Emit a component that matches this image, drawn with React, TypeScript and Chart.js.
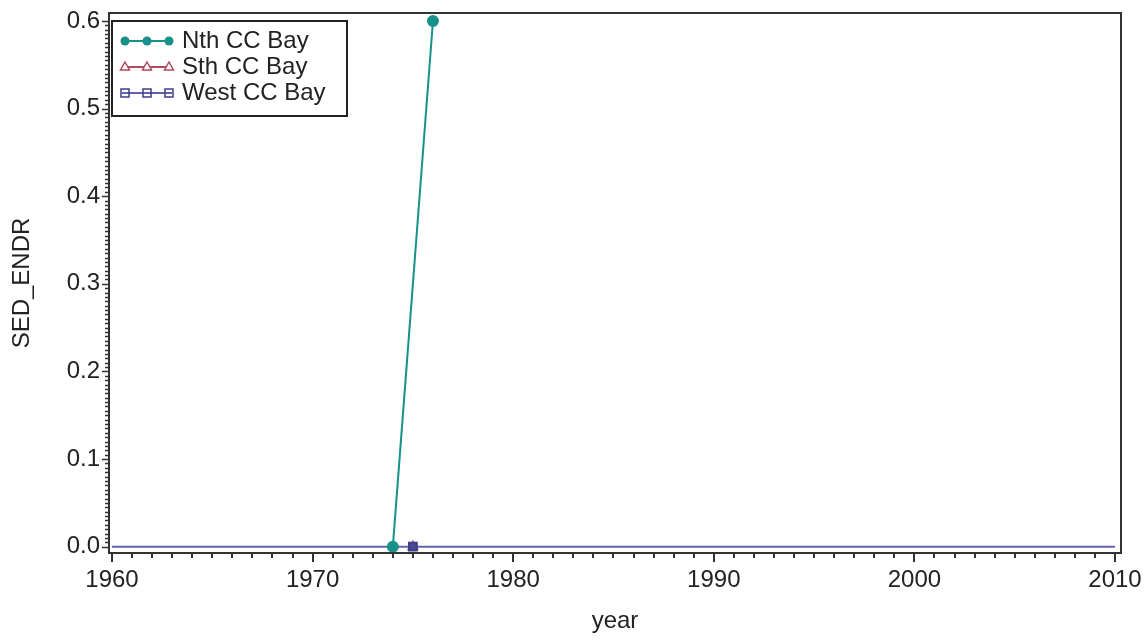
import React, { useEffect, useRef } from "react";
import { Chart, registerables } from "chart.js";

Chart.register(...registerables);

const seriesNames = ["Nth CC Bay", "Sth CC Bay", "West CC Bay"];
const nthYears = [1974, 1976];
const nthValues = [0, 0.6];
const sthYears = [1975];
const sthValues = [0];
const westYears = [1975];
const westValues = [0];
const refYears = [1960, 2010];
const refValues = [0, 0];
const xTickValues = [1960, 1970, 1980, 1990, 2000, 2010];
const yTickValues = [0, 0.1, 0.2, 0.3, 0.4, 0.5, 0.6];
const xTitle = "year";
const yTitle = "SED_ENDR";

const FONT = "'Liberation Sans', Arial, sans-serif";
const FS = 24;
const TEXT = "#222";
const AXIS = "#333";
const TEAL = "#17918a";
const RED = "#b04a5e";
const PURPLE_LINE = "#6262ae";
const PURPLE_MARK = "#3f3f88";

const toPts = (xs: number[], ys: number[]) => xs.map((x, i) => ({ x, y: ys[i] }));

const framePlugin = {
  id: "sasFrame",
  afterDraw(chart: any) {
    const { ctx, chartArea: a, scales } = chart;
    const xs = scales.x;
    const ys = scales.y;
    ctx.save();
    // frame
    ctx.strokeStyle = AXIS;
    ctx.lineWidth = 2;
    ctx.strokeRect(a.left, a.top, a.right - a.left, a.bottom - a.top);
    // x ticks
    ctx.lineWidth = 2;
    ctx.beginPath();
    for (let yr = xTickValues[0]; yr <= xTickValues[xTickValues.length - 1]; yr++) {
      const px = Math.round(xs.getPixelForValue(yr));
      const major = (yr - xTickValues[0]) % 10 === 0;
      ctx.moveTo(px, a.bottom);
      ctx.lineTo(px, a.bottom + (major ? 9 : 5));
    }
    ctx.stroke();
    // y ticks
    ctx.lineWidth = 1.5;
    ctx.beginPath();
    const ymin = yTickValues[0];
    const ymax = yTickValues[yTickValues.length - 1];
    const nSteps = Math.round((ymax - ymin) / 0.005);
    for (let i = 0; i <= nSteps; i++) {
      const v = ymin + i * 0.005;
      const py = Math.round(ys.getPixelForValue(v)) + 0.5;
      const major = i % 20 === 0;
      ctx.moveTo(a.left, py);
      ctx.lineTo(a.left - (major ? 7 : 4), py);
    }
    ctx.stroke();

    // legend
    const bx = a.left + 3;
    const by = a.top + 8;
    const bw = 235;
    const bh = 95;
    ctx.fillStyle = "#fff";
    ctx.fillRect(bx, by, bw, bh);
    ctx.strokeStyle = "#222";
    ctx.lineWidth = 2;
    ctx.strokeRect(bx, by, bw, bh);
    const colors = [TEAL, RED, PURPLE_LINE];
    const markColors = [TEAL, RED, PURPLE_MARK];
    for (let i = 0; i < seriesNames.length; i++) {
      const cy = a.top + 28 + i * 26;
      const x0 = a.left + 13;
      const x1 = a.left + 63;
      ctx.strokeStyle = colors[i];
      ctx.lineWidth = 2;
      ctx.beginPath();
      ctx.moveTo(x0, cy);
      ctx.lineTo(x1, cy);
      ctx.stroke();
      const mx = [a.left + 16, a.left + 38, a.left + 60];
      for (const m of mx) {
        ctx.strokeStyle = markColors[i];
        ctx.lineWidth = 1.5;
        if (i === 0) {
          ctx.fillStyle = TEAL;
          ctx.beginPath();
          ctx.arc(m, cy, 4.5, 0, Math.PI * 2);
          ctx.fill();
        } else if (i === 1) {
          ctx.fillStyle = "#fff";
          ctx.beginPath();
          ctx.moveTo(m, cy - 5);
          ctx.lineTo(m + 4.5, cy + 3);
          ctx.lineTo(m - 4.5, cy + 3);
          ctx.closePath();
          ctx.fill();
          ctx.stroke();
        } else {
          ctx.strokeRect(m - 4, cy - 4, 8, 8);
        }
      }
      ctx.fillStyle = TEXT;
      ctx.font = `${FS}px ${FONT}`;
      ctx.textBaseline = "middle";
      ctx.textAlign = "left";
      ctx.fillText(seriesNames[i], a.left + 73, cy);
    }
    ctx.restore();
  },
};

export default function App() {
  const ref = useRef<HTMLCanvasElement | null>(null);
  useEffect(() => {
    if (!ref.current) return;
    const chart = new Chart(ref.current, {
      type: "line",
      data: {
        datasets: [
          {
            label: seriesNames[0],
            data: toPts(nthYears, nthValues),
            borderColor: TEAL,
            backgroundColor: TEAL,
            borderWidth: 2,
            pointStyle: "circle",
            pointRadius: 5,
            pointBackgroundColor: TEAL,
            pointBorderColor: TEAL,
            order: 2,
          },
          {
            label: seriesNames[1],
            data: toPts(sthYears, sthValues),
            borderColor: RED,
            backgroundColor: "#fff",
            borderWidth: 2,
            pointStyle: "triangle",
            pointRadius: 5,
            order: 4,
          },
          {
            label: seriesNames[2],
            data: toPts(westYears, westValues),
            borderColor: PURPLE_MARK,
            backgroundColor: PURPLE_MARK,
            borderWidth: 2,
            pointStyle: "rect",
            pointRadius: 5.5,
            pointBackgroundColor: "#4a4a92",
            pointBorderColor: PURPLE_MARK,
            order: 1,
          },
          {
            label: "",
            data: toPts(refYears, refValues),
            borderColor: PURPLE_LINE,
            borderWidth: 2,
            pointRadius: 0,
            order: 3,
          },
        ],
      },
      options: {
        responsive: false,
        animation: false,
        layout: { padding: { top: 13, right: 25, bottom: 0, left: 0 } },
        plugins: {
          legend: { display: false },
          tooltip: { enabled: false },
        },
        scales: {
          x: {
            type: "linear",
            min: 1959.85,
            max: 2010.3,
            grid: { display: false, drawTicks: false },
            border: { display: false },
            afterBuildTicks: (s: any) => {
              s.ticks = xTickValues.map((v) => ({ value: v }));
            },
            afterFit: (s: any) => {
              s.height = 88;
              s.paddingLeft = 0;
              s.paddingRight = 0;
            },
            ticks: {
              autoSkip: false,
              maxRotation: 0,
              padding: 13,
              color: TEXT,
              font: { family: FONT, size: FS },
              callback: (v: any) => String(v),
            },
            title: {
              display: true,
              text: xTitle,
              color: TEXT,
              font: { family: FONT, size: FS },
              padding: { top: 0, bottom: 5 },
            },
          },
          y: {
            type: "linear",
            min: -0.0072,
            max: 0.6091,
            grid: { display: false, drawTicks: false },
            border: { display: false },
            afterBuildTicks: (s: any) => {
              s.ticks = yTickValues.map((v) => ({ value: v }));
            },
            afterFit: (s: any) => {
              s.width = 109;
              s.paddingTop = 0;
              s.paddingBottom = 0;
            },
            ticks: {
              autoSkip: false,
              padding: 9,
              color: TEXT,
              font: { family: FONT, size: FS },
              callback: (v: any) => Number(v).toFixed(1),
            },
            title: {
              display: true,
              text: yTitle,
              color: TEXT,
              font: { family: FONT, size: FS },
              padding: { top: 8, bottom: 0 },
            },
          },
        },
      },
      plugins: [framePlugin],
    });
    return () => chart.destroy();
  }, []);
  return (
    <canvas
      ref={ref}
      width={1146}
      height={641}
      style={{ position: "fixed", left: 0, top: 0, display: "block", background: "#fff" }}
    />
  );
}
